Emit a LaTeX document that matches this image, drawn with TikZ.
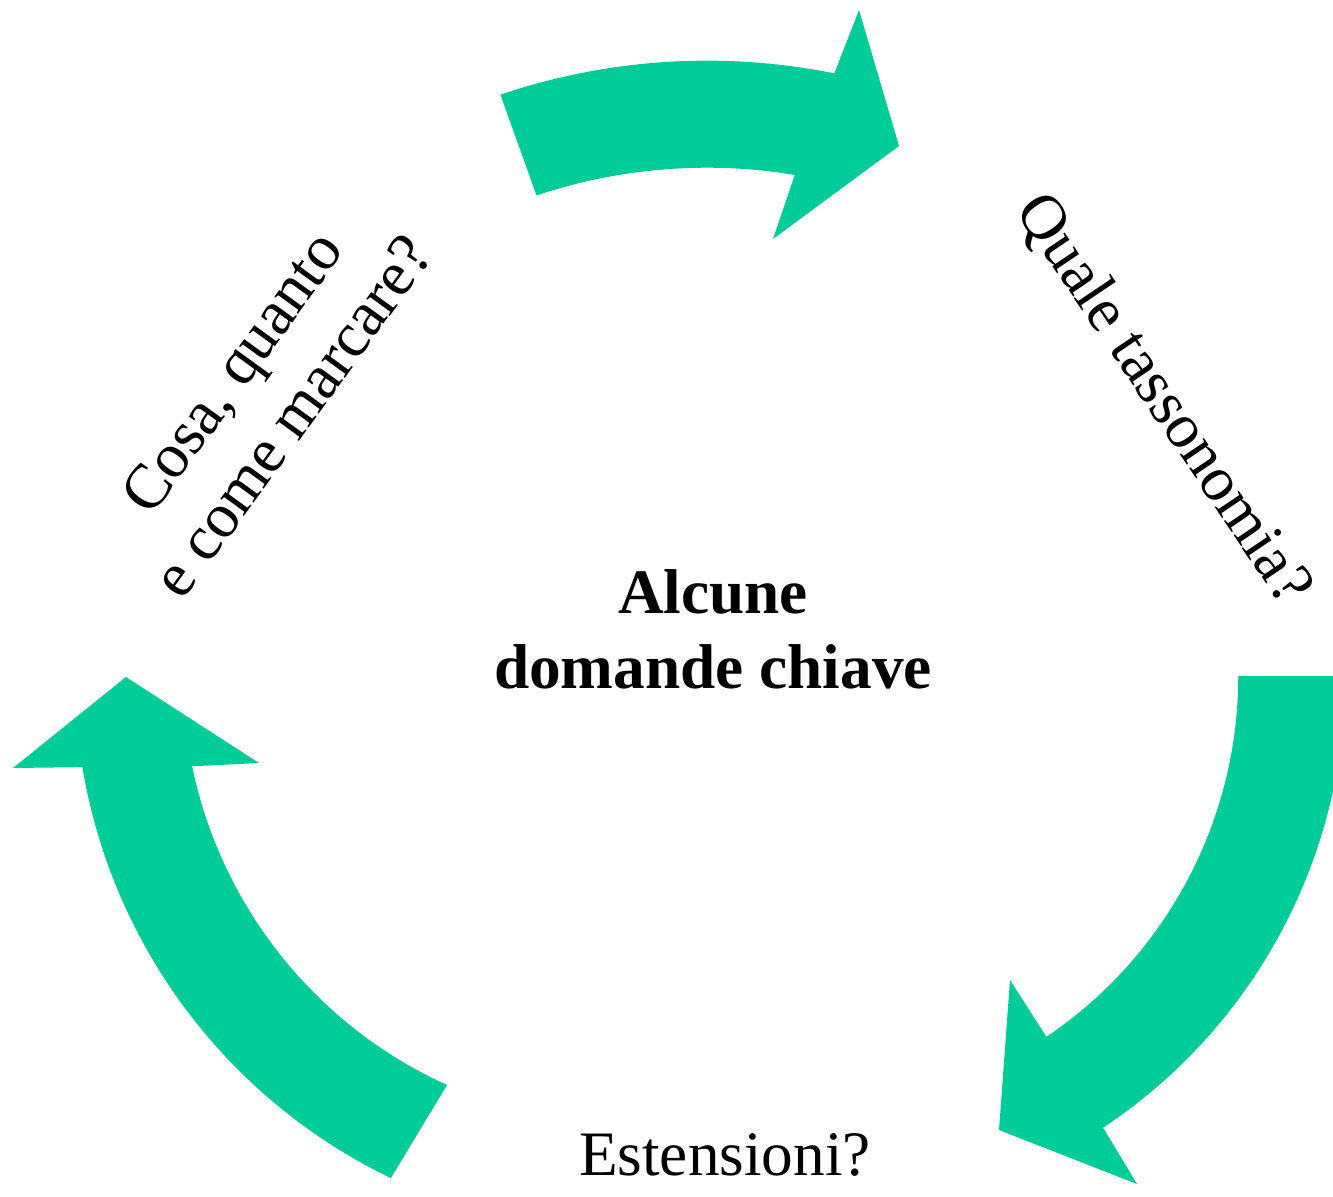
\documentclass[tikz,border=0pt]{standalone}
\usepackage{fontspec}
\setmainfont{Liberation Serif}
\usetikzlibrary{calc}
\definecolor{cyclegreen}{RGB}{0,204,153}
\begin{document}
\begin{tikzpicture}[x=0.01cm,y=0.01cm,
  cyclearrow/.style={fill=cyclegreen},
  cyclelabel/.style={font=\fontsize{18pt}{21.3pt}\selectfont, align=center, inner sep=0pt},
  corelabel/.style={font=\fontsize{18pt}{21.3pt}\selectfont\bfseries, align=center, inner sep=0pt}]
\useasboundingbox (0,0) rectangle (1333,1196);
\clip (0,0) rectangle (1333,1196);

% centres of the three circular arrows
\coordinate (ct) at (707,491);
\coordinate (cr) at (803,520);
\coordinate (cl) at (633,521);

% top arrow (left to right)
\fill[cyclearrow] ($(ct)+(108.7:6.44cm)$) arc[start angle=108.7, end angle=78.6, radius=6.44cm]
  -- (859,1186) -- (899,1050) -- (773,957)
  -- ($(ct)+(80.6:5.37cm)$) arc[start angle=80.6, end angle=108.5, radius=5.37cm] -- cycle;

% right arrow (downwards)
\fill[cyclearrow] ($(cr)+(0:5.42cm)$) arc[start angle=0, end angle=-56.4, radius=5.42cm]
  -- (1137,12) -- (999,66) -- (1010,216)
  -- ($(cr)+(-56.0:4.35cm)$) arc[start angle=-56.0, end angle=0, radius=4.35cm] -- cycle;

% left arrow (upwards)
\fill[cyclearrow] ($(cl)+(244.3:5.58cm)$) arc[start angle=244.3, end angle=189.5, radius=5.58cm]
  -- (13,428) -- (126,519) -- (259,433)
  -- ($(cl)+(191.7:4.50cm)$) arc[start angle=191.7, end angle=245.6, radius=4.50cm] -- cycle;

% labels (the base anchor of a two-line node sits on its last line)
\node[corelabel, anchor=base] (core) at (713,508) {Alcune\\domande chiave};
\node[cyclelabel, anchor=base] (lble) at (725,21) {Estensioni?};
\node[cyclelabel, rotate=-56] (lblq) at (1163,796) {Quale tassonomia?};
\node[cyclelabel, rotate=54] (lblc) at (262,802) {Cosa, quanto\\e come marcare?};
\end{tikzpicture}
\end{document}
